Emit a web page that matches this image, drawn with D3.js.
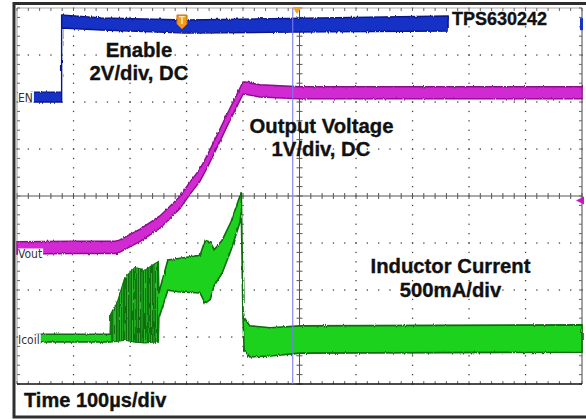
<!DOCTYPE html>
<html>
<head>
<meta charset="utf-8">
<script src="https://cdn.jsdelivr.net/npm/d3@7"></script>
<style>
  html, body { margin: 0; padding: 0; background: #fff; }
  svg { display: block; }
</style>
</head>
<body>
<div id="scope"></div>
<script>
// Scope capture: TPS630242 start-up (EN, Vout, inductor current), 100us/div

// time in microseconds from the left edge of the screen
const enTime  = [23, 79, 79, 150, 300, 480, 763];
const enHigh  = [0.21, 0.21, 3.49, 3.36, 3.28, 3.34, 3.45];   // V
const enLow   = [-0.21, -0.21, 2.94, 2.85, 2.72, 2.76, 2.81]; // V

const voutTime  = [0, 100, 175, 182, 218, 253, 288, 306, 324, 338, 355, 372, 400, 404, 430, 500, 1000];
const voutLevel = [0.13, 0.14, 0.14, 0.17, 0.40, 0.68, 1.09, 1.40, 1.68, 2.00, 2.42, 2.85, 3.53, 3.53, 3.47, 3.43, 3.43]; // V

const icoilTime = [35, 165, 166, 179, 191, 209, 227, 239, 250, 251, 267, 289, 324, 333, 342, 349, 363, 379, 395, 397, 400, 402, 412, 448, 501, 1000];
const icoilHigh = [0.05, 0.05, 0.26, 0.41, 0.65, 0.76, 0.73, 0.78, 0.82, 0.49, 0.84, 0.86, 0.89, 1.05, 1.03, 0.95, 1.05, 1.25, 1.53, 1.56, 0.31, 0.23, 0.14, 0.12, 0.14, 0.15];   // A
const icoilLow  = [-0.03, -0.03, -0.03, -0.02, -0.01, -0.03, -0.04, -0.03, -0.03, 0.22, 0.52, 0.50, 0.49, 0.38, 0.42, 0.57, 0.70, 0.95, 1.25, 1.35, 0.22, -0.12, -0.19, -0.18, -0.15, -0.14]; // A

const triggerTime = 292;   // us
const triggerLevel = 1.14; // V on Vout
const cursorTime = 488;    // us

const labels = {
  enable: ['Enable', '2V/div, DC'],
  vout: ['Output Voltage', '1V/div, DC'],
  icoil: ['Inductor Current', '500mA/div'],
  part: 'TPS630242',
  time: 'Time 100\u00b5s/div'
};

(function(){
  const W = 586, H = 419;
  const box = {left:17, right:582, top:8, bottom:384};

  const svg = d3.select('#scope').append('svg').attr('width',W).attr('height',H);
  svg.append('rect').attr('width',W).attr('height',H).attr('fill','#fff');

  const x = d3.scaleLinear().domain([0,1000]).range([box.left, box.right]);
  const y = d3.scaleLinear().domain([-4,4]).range([box.bottom, box.top]);

  // channel -> screen: ground offset (div) and units per div
  const yEN = v => y(2.106 + v/2);
  const yVout = v => y(-1.234 + v/1);
  const yIcoil = a => y(-3.043 + a/0.5);

  const defs = svg.append('defs');
  const pat = defs.append('pattern').attr('id','sw').attr('patternUnits','userSpaceOnUse')
    .attr('width',2.4).attr('height',6);
  pat.append('rect').attr('width',2.4).attr('height',6).attr('fill','#0d6f0d');
  pat.append('rect').attr('width',0.8).attr('height',6).attr('fill','#2fc42f');
  const flt = defs.append('filter').attr('id','rough').attr('x','-2%').attr('y','-20%').attr('width','104%').attr('height','140%');
  flt.append('feTurbulence').attr('type','fractalNoise').attr('baseFrequency','0.9 0.08').attr('numOctaves',1).attr('seed',4).attr('result','n');
  flt.append('feDisplacementMap').attr('in','SourceGraphic').attr('in2','n').attr('scale',3)
    .attr('xChannelSelector','R').attr('yChannelSelector','G');

  // outer frame
  svg.append('rect').attr('x',14).attr('y',3.5).attr('width',W).attr('height',413.5)
    .attr('fill','none').attr('stroke','#2e2e2e').attr('stroke-width',3);

  // graticule
  const grid = svg.append('g');
  const minorT = d3.range(0, 1000.1, 20);
  const minorD = d3.range(-4, 4.01, 0.2);
  [100,200,300,400,600,700,800,900].forEach(t => {
    grid.selectAll(null).data(minorD).enter().append('rect')
      .attr('x',x(t)-0.6).attr('y',d=>y(d)-0.6).attr('width',1.3).attr('height',1.3).attr('fill','#444');
  });
  [-3,-2,-1,1,2,3].forEach(dv => {
    grid.selectAll(null).data(minorT).enter().append('rect')
      .attr('x',t=>x(t)-0.6).attr('y',y(dv)-0.6).attr('width',1.3).attr('height',1.3).attr('fill','#444');
  });
  // centre axes with ticks
  grid.append('line').attr('x1',box.left).attr('x2',box.right).attr('y1',y(0)).attr('y2',y(0)).attr('stroke','#555');
  grid.append('line').attr('x1',x(500)).attr('x2',x(500)).attr('y1',box.top).attr('y2',box.bottom).attr('stroke','#555');
  grid.selectAll(null).data(minorT).enter().append('line')
    .attr('x1',t=>x(t)).attr('x2',t=>x(t)).attr('y1',y(0)-3).attr('y2',y(0)+3).attr('stroke','#555');
  grid.selectAll(null).data(minorD).enter().append('line')
    .attr('y1',d=>y(d)).attr('y2',d=>y(d)).attr('x1',x(500)-3).attr('x2',x(500)+3).attr('stroke','#555');
  // edges
  grid.append('line').attr('x1',box.left).attr('x2',box.right).attr('y1',box.top).attr('y2',box.top).attr('stroke','#aaa');
  grid.append('line').attr('x1',box.left).attr('x2',box.left).attr('y1',box.top).attr('y2',box.bottom).attr('stroke','#999');
  grid.append('line').attr('x1',box.right).attr('x2',box.right).attr('y1',box.top).attr('y2',box.bottom).attr('stroke','#444');
  grid.selectAll(null).data(minorT).enter().append('line')
    .attr('x1',t=>x(t)).attr('x2',t=>x(t)).attr('y1',box.top).attr('y2',box.top+3).attr('stroke','#666');
  grid.selectAll(null).data(minorT).enter().append('line')
    .attr('x1',t=>x(t)).attr('x2',t=>x(t)).attr('y1',box.bottom-3).attr('y2',box.bottom).attr('stroke','#666');
  grid.selectAll(null).data(minorD).enter().append('line')
    .attr('y1',d=>y(d)).attr('y2',d=>y(d)).attr('x1',box.left).attr('x2',box.left+3).attr('stroke','#666');
  grid.selectAll(null).data(minorD).enter().append('line')
    .attr('y1',d=>y(d)).attr('y2',d=>y(d)).attr('x1',box.right-3).attr('x2',box.right).attr('stroke','#666');
  grid.append('line').attr('x1',box.left).attr('x2',box.right).attr('y1',box.bottom).attr('y2',box.bottom)
    .attr('stroke','#111').attr('stroke-width',1.5);

  // traces
  const en = enTime.map((t,i)=>({t, hi:enHigh[i], lo:enLow[i]}));
  const vout = voutTime.map((t,i)=>({t, hi:voutLevel[i]+0.13, lo:voutLevel[i]-0.13}));
  const icoil = icoilTime.map((t,i)=>({t, hi:icoilHigh[i], lo:icoilLow[i]}));

  const band = ys => d3.area().x(d=>x(d.t)).y0(d=>ys(d.lo)).y1(d=>ys(d.hi));

  const tr = svg.append('g');
  tr.append('path').datum(icoil).attr('d',band(yIcoil)).attr('fill','#1fd21f')
    .attr('stroke','#0b6a0b').attr('stroke-width',1.6).attr('filter','url(#rough)');
  tr.append('path').datum(icoil.filter(d=>d.t>=166 && d.t<=250)).attr('d',band(yIcoil))
    .attr('fill','url(#sw)').attr('filter','url(#rough)');
  tr.append('path').datum(vout).attr('d',band(yVout)).attr('fill','#d22ad2')
    .attr('stroke','#8a0a8a').attr('stroke-width',1.4).attr('filter','url(#rough)');
  tr.append('path').datum(en).attr('d',band(yEN)).attr('fill','#1532c6')
    .attr('stroke','#0a1588').attr('stroke-width',1.4).attr('filter','url(#rough)');

  // cursor
  svg.append('line').attr('x1',x(cursorTime)).attr('x2',x(cursorTime)).attr('y1',box.top).attr('y2',box.bottom)
    .attr('stroke','#7a7af0').attr('stroke-width',1.2).attr('opacity',0.9);

  // markers
  const tx = x(triggerTime), ty = 15;
  svg.append('path').attr('d',`M${tx-5},${ty} h10 v9 l-5,5 l-5,-5 Z`).attr('fill','#f39a1c').attr('stroke','#c46f0a');
  svg.append('text').attr('x',tx).attr('y',ty+9).attr('text-anchor','middle').attr('font-size',10)
    .attr('font-family','Liberation Sans, Arial, sans-serif').attr('font-weight','bold').attr('fill','#ffe6b0').text('T');
  svg.append('path').attr('d',`M${x(500)-7},7 h9 l-4.5,7 Z`).attr('fill','#f5a020');
  svg.append('path').attr('d',`M${box.right+2},${yVout(triggerLevel)-4} v8 l-8,-4 Z`).attr('fill','#c418c4');
  svg.append('rect').attr('x',box.right-2).attr('y',yEN(3.1)-6).attr('width',3).attr('height',12).attr('fill','#1532c6');

  // channel ground labels
  const chan = [['EN', yEN(0)], ['Vout', yVout(0)], ['Icoil', yIcoil(0)]];
  chan.forEach(([s,yy]) => {
    const t = svg.append('text').attr('x',box.left+1).attr('y',yy+4.5)
      .attr('font-family','Liberation Sans Narrow, DejaVu Sans Condensed, Arial, sans-serif')
      .attr('font-size',12).attr('fill','#333').text(s);
    const bb = t.node().getBBox();
    svg.insert('rect', () => t.node()).attr('x',bb.x).attr('y',yy-5.5).attr('width',bb.width+1).attr('height',11).attr('fill','#fff');
  });

  // annotations
  const txt = (s, xx, yy, size, anchor) => svg.append('text').attr('x',xx).attr('y',yy)
    .attr('text-anchor',anchor||'middle').attr('font-family','Liberation Sans, Arial, sans-serif')
    .attr('font-weight','bold').attr('font-size',size).attr('fill','#111')
    .attr('stroke','#111').attr('stroke-width',0.35).text(s);
  txt(labels.enable[0], 139, 57, 20.3);
  txt(labels.enable[1], 139, 80, 20.3);
  txt(labels.vout[0], 321.5, 133, 20.3);
  txt(labels.vout[1], 321, 156, 20.3);
  txt(labels.icoil[0], 450.5, 273, 20.3);
  txt(labels.icoil[1], 450.5, 297, 20.3);
  txt(labels.part, 452, 25, 18, 'start');
  txt(labels.time, 24, 407, 20, 'start');
})();
</script>
</body>
</html>
